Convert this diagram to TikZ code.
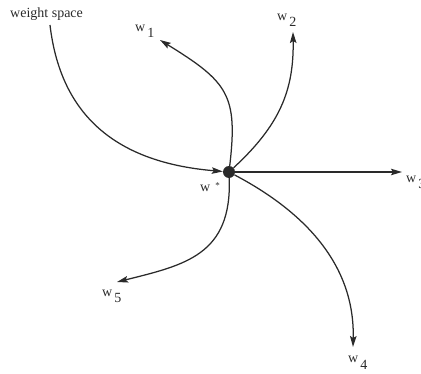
\documentclass[tikz,border=0pt]{standalone}
\usepackage{fontspec}
\setmainfont{Liberation Serif}
\usetikzlibrary{arrows.meta}
\definecolor{ink}{HTML}{2A2A2A}
\newcommand\wsub[1]{w\hspace{2pt}\raisebox{-6pt}{#1}}
\begin{document}
\begin{tikzpicture}[x=1pt,y=-1pt,
  curve/.style={draw=ink, line width=1.25pt, -{Stealth[length=11pt,width=6.5pt,inset=2pt]}},
  lbl/.style={anchor=base west, inner sep=0pt, font=\fontsize{14}{16}\selectfont, text=ink},
  dot/.style={circle, fill=ink, minimum size=12pt, inner sep=0pt}]
\useasboundingbox (0,0) rectangle (421,374);
\node[dot] (c) at (229,172) {};
\coordinate (ws) at (50,25);
\coordinate (e1) at (160,40);
\coordinate (e2) at (293,32);
\coordinate (e3) at (402,172);
\coordinate (e4) at (353,347);
\coordinate (e5) at (117,282);
\draw[curve] (ws) .. controls (60,110) and (110,162) .. (c);
\draw[curve] (c) .. controls (238,95) and (228,82) .. (e1);
\draw[curve] (c) .. controls (280,125) and (294,90) .. (e2);
\draw[curve] (c) -- (e3);
\draw[curve] (c) .. controls (305,212) and (355,265) .. (e4);
\draw[curve] (c) .. controls (232,255) and (185,265) .. (e5);
\node[lbl] (lws) at (10,18) {weight space};
\node[lbl] (l1) at (135,32) {\wsub{1}};
\node[lbl] (l2) at (277,21) {\wsub{2}};
\node[lbl] (l3) at (406,183) {\wsub{3}};
\node[lbl] (l4) at (348,363) {\wsub{4}};
\node[lbl] (l5) at (102,297) {\wsub{5}};
\node[lbl] (ls) at (200,192) {w\hspace{5pt}\raisebox{3pt}{\fontsize{9}{9}\selectfont *}};
\end{tikzpicture}
\end{document}
